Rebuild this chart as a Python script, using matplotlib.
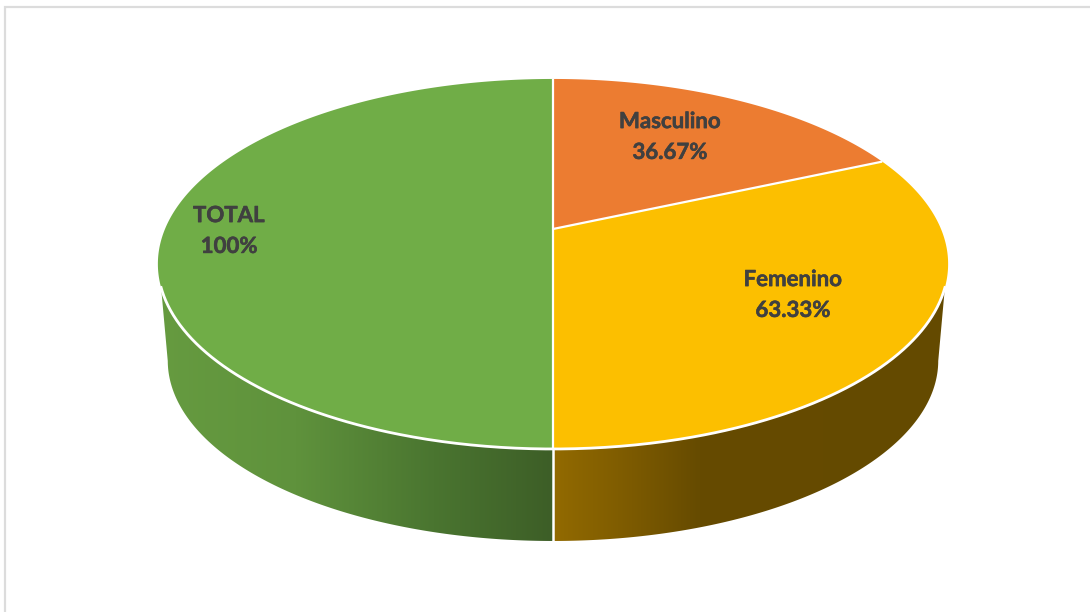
import numpy as np
import matplotlib
matplotlib.use('Agg')
import matplotlib.pyplot as plt
import matplotlib.patheffects as pe
from matplotlib.colors import LinearSegmentedColormap
from matplotlib.patches import Polygon

# porcentajes; cada mitad del disco suma 100
names = ['Masculino', 'Femenino', 'TOTAL']
values = [36.67, 63.33, 100]
labels = ['36.67%', '63.33%', '100%']
top_colors = ['#EC7C31', '#FCBF00', '#70AD47']

WIDTH, HEIGHT = 1090, 612
CX, CY = 553, 229
A, B, K = 178.4, 388, 0.189     # proyeccion del disco en perspectiva
WALL_S = 0.975                  # el borde inferior se ve algo mas chico
WALL_CY = 326.5
TOP_EDGE = np.radians(108)      # donde aparece la pared en el borde superior
LOW_EDGE = np.radians(101)
LABEL_XY = [(670, 137), (793, 295), (229, 231)]


def project(theta, cy=CY, s=1.0):
    # theta en sentido horario desde arriba
    w = 1 + K * np.cos(theta)
    return CX + s * B * np.sin(theta) / w, cy - s * A * np.cos(theta) / w


def arc(t0, t1, n=200, **kw):
    return np.column_stack(project(np.linspace(t0, t1, n), **kw))


fig = plt.figure(figsize=(WIDTH / 100, HEIGHT / 100), dpi=100)
ax = fig.add_axes([0, 0, 1, 1])

# marco gris de arriba y de la izquierda
ax.plot([5, 5, WIDTH], [HEIGHT, 7, 7], color='#DCDCDC', lw=1.6, solid_joinstyle='miter')

angles = np.radians(np.cumsum([0] + values) / sum(values) * 360)

# paredes con degradado
wall_cmaps = {
    1: LinearSegmentedColormap.from_list('fem', [(0, '#926A00'), (0.2, '#7C5A00'), (0.37, '#664B00'), (1, '#644A00')]),
    2: LinearSegmentedColormap.from_list('tot', [(0, '#669B40'), (0.35, '#5F923C'), (0.7, '#4A7530'), (1, '#3D5E27')]),
}
for i, cmap in wall_cmaps.items():
    t0, t1 = angles[i], angles[i + 1]
    top0, top1 = max(t0, TOP_EDGE), min(t1, 2 * np.pi - TOP_EDGE)
    low0, low1 = max(t0, LOW_EDGE), min(t1, 2 * np.pi - LOW_EDGE)
    verts = np.vstack([arc(top0, top1), arc(low1, low0, cy=WALL_CY, s=WALL_S)])
    grad = np.linspace(0, 1, 256).reshape(1, -1)
    if i == 1:
        x0, x1 = CX, 948
    else:
        x0, x1 = 158, CX
    im = ax.imshow(grad, cmap=cmap, extent=[x0, x1, 545, 260], aspect='auto', zorder=1)
    im.set_clip_path(Polygon(verts, closed=True, transform=ax.transData))

# cara superior
for i in range(len(values)):
    pts = np.vstack([[CX, CY], arc(angles[i], angles[i + 1], 300)])
    ax.fill(pts[:, 0], pts[:, 1], color=top_colors[i], lw=0, zorder=2)

# lineas blancas entre sectores y sobre el borde
for t in angles[:-1]:
    x, y = project(t)
    ax.plot([CX, x], [CY, y], color='white', lw=1.6, zorder=3, solid_capstyle='butt')
rim = arc(TOP_EDGE, 2 * np.pi - TOP_EDGE, 400)
ax.plot(rim[:, 0], rim[:, 1], color='white', lw=2.0, zorder=3)
xf, yf = project(np.pi)
xb, yb = project(np.pi, cy=WALL_CY, s=WALL_S)
ax.plot([xf, xb], [yf, yb + 1], color='white', lw=1.8, zorder=3, solid_capstyle='butt')

for name, label, (x, y) in zip(names, labels, LABEL_XY):
    ax.text(x, y, name + '\n' + label, ha='center', va='center', color='#404040',
            fontsize=16, fontweight='bold', family='Lato', linespacing=1.58, zorder=4,
            path_effects=[pe.withStroke(linewidth=0.4, foreground='#404040')])

ax.set_xlim(0, WIDTH)
ax.set_ylim(HEIGHT, 0)
ax.axis('off')
fig.savefig('out.png', dpi=100)
